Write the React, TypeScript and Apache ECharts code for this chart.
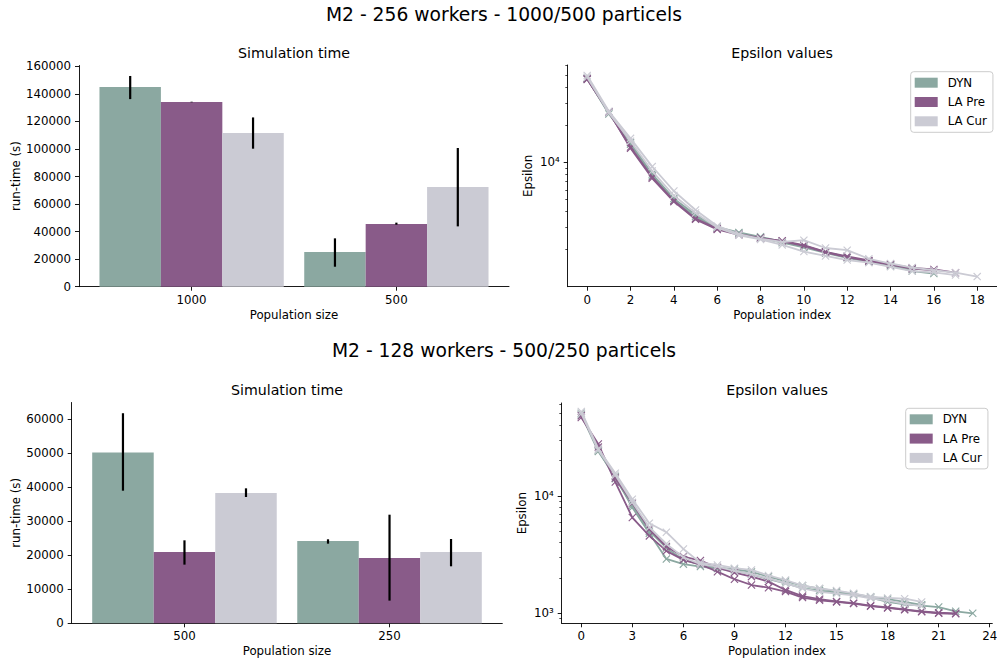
import React, { useEffect, useRef } from 'react';
import * as echarts from 'echarts';

// ---------- data ----------
const methods = ['DYN', 'LA Pre', 'LA Cur'];
const colors = ['#8ba8a1', '#895b89', '#cbcbd4'];

// Row 1: 256 workers – run time
const topPopSizes = ['1000', '500'];
const topTimeDYN = [145000, 25200];
const topLowDYN = [136200, 14500];
const topHighDYN = [153000, 35100];
const topTimePre = [134100, 45500];
const topLowPre = [133900, 45000];
const topHighPre = [134300, 46500];
const topTimeCur = [111600, 72400];
const topLowCur = [100200, 43800];
const topHighCur = [122900, 100700];
const topTimeTicks = [0, 20000, 40000, 60000, 80000, 100000, 120000, 140000, 160000];

// Row 2: 128 workers – run time
const botPopSizes = ['500', '250'];
const botTimeDYN = [50200, 24180];
const botLowDYN = [38950, 23390];
const botHighDYN = [61700, 24670];
const botTimePre = [20950, 19180];
const botLowPre = [17230, 6660];
const botHighPre = [24370, 31900];
const botTimeCur = [38270, 20950];
const botLowCur = [37100, 16740];
const botHighCur = [39640, 24760];
const botTimeTicks = [0, 10000, 20000, 30000, 40000, 50000, 60000];

// Row 1: epsilon per population index
const epsTopDYN_A = [47500, 24500, 14400, 8050, 5100, 3780, 3000, 2720, 2510, 2300, 2120, 1900, 1720, 1590, 1480, 1330, 1270];
const epsTopDYN_B = [46800, 25000, 14000, 7800, 4950, 3650, 2950, 2680, 2460, 2250, 2060, 1860, 1700, 1580, 1460, 1370];
const epsTopPre_A = [46500, 25600, 12970, 7430, 4820, 3470, 2880, 2600, 2440, 2330, 2150, 1900, 1750, 1620, 1510, 1410, 1370, 1290];
const epsTopPre_B = [47200, 25300, 13300, 7600, 4900, 3520, 2920, 2640, 2460, 2310, 2120, 1880, 1720, 1600, 1500, 1390, 1350];
const epsTopCur_A = [50000, 25800, 15600, 9230, 5870, 4130, 3070, 2640, 2420, 2280, 2360, 2040, 1960, 1670, 1530, 1420, 1350, 1290, 1200];
const epsTopCur_B = [48500, 25000, 14800, 8500, 5400, 3900, 2980, 2580, 2390, 2160, 1910, 1760, 1630, 1555, 1440, 1330, 1300, 1235];
const epsTopXTicks = [0, 2, 4, 6, 8, 10, 12, 14, 16, 18];
const epsTopMajor = [10000];
const epsTopMinor = [2000, 3000, 4000, 5000, 6000, 7000, 8000, 9000, 20000, 30000, 40000, 50000, 60000];

// Row 2: epsilon per population index
const epsBotDYN_A = [49000, 23900, 14600, 7950, 4810, 2900, 2620, 2500, 2400, 2300, 2150, 1950, 1800, 1640, 1560, 1500, 1440, 1360, 1250, 1190, 1160, 1130, 1040, 1000];
const epsBotDYN_B = [50500, 24500, 14000, 8300, 5000, 3600, 2850, 2600, 2450, 2380, 2250, 2050, 1880, 1720, 1620, 1540, 1460, 1380, 1320, 1250, 1180];
const epsBotPre_A = [46500, 27600, 13100, 6530, 4560, 3400, 2850, 2600, 2260, 1950, 1740, 1650, 1530, 1360, 1290, 1250, 1210, 1150, 1110, 1070, 1030, 1000, 990];
const epsBotPre_B = [48000, 26000, 14200, 8670, 5200, 3700, 3040, 2810, 2450, 2220, 2050, 1860, 1580, 1400, 1320, 1260, 1220, 1160, 1120, 1080, 1040, 1010, 1000];
const epsBotCur_A = [52300, 25200, 15600, 9370, 5850, 4900, 3530, 2700, 2580, 2420, 2340, 2100, 1920, 1720, 1630, 1560, 1480, 1380, 1350, 1330, 1250];
const epsBotCur_B = [50000, 24500, 15000, 8800, 5400, 3900, 3000, 2620, 2500, 2300, 2150, 1980, 1800, 1630, 1520, 1470, 1420, 1340, 1280, 1200, 1150];
const epsBotXTicks = [0, 3, 6, 9, 12, 15, 18, 21, 24];
const epsBotMajor = [1000, 10000];
const epsBotMinor = [900, 2000, 3000, 4000, 5000, 6000, 7000, 8000, 9000, 20000, 30000, 40000, 50000, 60000];

// ---------- styling helpers ----------
const FONT = 'DejaVu Sans';
const AX_COLOR = '#000';
const X_PATH = 'path://M0,1L1,0L5,4L9,0L10,1L6,5L10,9L9,10L5,6L1,10L0,9L4,5Z';

const axisBase = (extra: any) => ({
  axisLine: { show: true, onZero: false, lineStyle: { color: AX_COLOR, width: 0.9 } },
  splitLine: { show: false },
  nameTextStyle: { color: '#000', fontSize: 11.8, fontFamily: FONT },
  nameLocation: 'middle',
  ...extra,
});
const tick = (values: number[], len = 4, width = 0.9) => ({
  show: true, length: len, customValues: values, lineStyle: { color: AX_COLOR, width },
});
const label = (values: number[], formatter: any, margin = 7) => ({
  show: true, customValues: values, formatter, color: '#000', fontSize: 11.8, fontFamily: FONT, margin,
});

const supFmt = (v: number) => (Math.abs(v - 10000) < 1 ? '10⁴' : Math.abs(v - 1000) < 1 ? '10³' : '');

const barSeries = (
  name: string, idx: number, means: number[], lows: number[], highs: number[], grid: number,
) => {
  const offset = (idx - 1) * 0.3;
  const half = 0.15;
  return {
    type: 'custom',
    name: name + ' run-time',
    xAxisIndex: grid === 0 ? 0 : 2,
    yAxisIndex: grid === 0 ? 0 : 3,
    data: means.map((m, i) => [i, m, lows[i], highs[i]]),
    encode: { x: 0, y: 1 },
    renderItem: (_p: any, api: any) => {
      const x = api.value(0) + offset;
      const y = api.value(1);
      const tl = api.coord([x - half, y]);
      const br = api.coord([x + half, 0]);
      const pLo = api.coord([x, api.value(2)]);
      const pHi = api.coord([x, api.value(3)]);
      return {
        type: 'group',
        children: [
          { type: 'rect', shape: { x: tl[0], y: tl[1], width: br[0] - tl[0], height: br[1] - tl[1] }, style: { fill: colors[idx] } },
          { type: 'line', z2: 10, shape: { x1: pLo[0], y1: pLo[1], x2: pHi[0], y2: pHi[1] }, style: { stroke: '#000', lineWidth: 2.2 } },
        ],
      };
    },
  };
};

const lineSeries = (name: string, idx: number, values: number[], xi: number, yi: number) => ({
  type: 'line',
  name,
  xAxisIndex: xi,
  yAxisIndex: yi,
  data: values.map((v, i) => [i, v]),
  symbol: X_PATH,
  symbolSize: 8,
  showSymbol: true,
  lineStyle: { color: colors[idx], width: 1.8 },
  itemStyle: { color: colors[idx] },
  z: 2 + idx,
});

const legendCfg = (left: number, top: number) => ({
  orient: 'vertical',
  left,
  top,
  data: methods,
  icon: 'rect',
  itemWidth: 23,
  itemHeight: 10,
  itemGap: 7.3,
  padding: [5, 6, 5, 4],
  backgroundColor: 'rgba(255,255,255,0.8)',
  borderColor: '#cccccc',
  borderWidth: 1,
  borderRadius: 3,
  selectedMode: false,
  itemStyle: { borderWidth: 0 },
  textStyle: { color: '#000', fontSize: 11.8, fontFamily: FONT, padding: [0, 0, 0, 5] },
});

const titleText = (text: string, x: number, y: number, size: number) => ({
  type: 'text',
  x,
  y,
  style: { text, fill: '#000', font: `${size}px "${FONT}"`, textAlign: 'center', textVerticalAlign: 'middle' },
});

export default function App() {
  const ref = useRef<HTMLDivElement>(null);
  useEffect(() => {
    if (!ref.current) return;
    const chart = echarts.init(ref.current, null, { renderer: 'svg' });
    const option: any = {
      animation: false,
      backgroundColor: '#fff',
      textStyle: { fontFamily: FONT },
      graphic: [
        titleText('M2 - 256 workers - 1000/500 particels', 504, 14, 18.7),
        titleText('M2 - 128 workers - 500/250 particels', 504, 350, 18.7),
        titleText('Simulation time', 294, 53, 14.2),
        titleText('Epsilon values', 782, 53, 14.2),
        titleText('Simulation time', 287, 390, 14.2),
        titleText('Epsilon values', 777, 390, 14.2),
      ],
      grid: [
        { left: 79, top: 65.5, width: 430, height: 221.2, containLabel: false, outerBoundsMode: 'none' },
        { left: 567.7, top: 65, width: 429, height: 221.7, containLabel: false, outerBoundsMode: 'none' },
        { left: 71.7, top: 402.5, width: 430.6, height: 220.8, containLabel: false, outerBoundsMode: 'none' },
        { left: 561.7, top: 403, width: 430.6, height: 220.3, containLabel: false, outerBoundsMode: 'none' },
      ],
      legend: [legendCfg(910.7, 71.7), legendCfg(905.7, 408.3)],
      xAxis: [
        axisBase({ type: 'value', gridIndex: 0, min: -0.55, max: 1.55, name: 'Population size', nameGap: 22,
          axisTick: tick([0, 1]), axisLabel: label([0, 1], (v: number) => topPopSizes[Math.round(v)]) }),
        axisBase({ type: 'value', gridIndex: 1, min: -0.9, max: 18.9, name: 'Population index', nameGap: 22,
          axisTick: tick(epsTopXTicks), axisLabel: label(epsTopXTicks, (v: number) => String(v)) }),
        axisBase({ type: 'value', gridIndex: 2, min: -0.55, max: 1.55, name: 'Population size', nameGap: 22,
          axisTick: tick([0, 1]), axisLabel: label([0, 1], (v: number) => botPopSizes[Math.round(v)]) }),
        axisBase({ type: 'value', gridIndex: 3, min: -1.15, max: 24.15, name: 'Population index', nameGap: 22,
          axisTick: tick(epsBotXTicks), axisLabel: label(epsBotXTicks, (v: number) => String(v)) }),
      ],
      yAxis: [
        axisBase({ type: 'value', gridIndex: 0, min: 0, max: 160600, name: 'run-time (s)', nameGap: 56,
          axisTick: tick(topTimeTicks), axisLabel: label(topTimeTicks, (v: number) => String(v), 8) }),
        axisBase({ type: 'log', logBase: 10, gridIndex: 1, min: 995, max: 60800, name: 'Epsilon', nameGap: 34,
          axisTick: tick(epsTopMajor), axisLabel: label(epsTopMajor, supFmt, 8) }),
        { type: 'log', logBase: 10, gridIndex: 1, min: 995, max: 60800, position: 'left',
          axisLine: { show: false, onZero: false }, splitLine: { show: false }, axisLabel: { show: false },
          axisTick: tick(epsTopMinor, 2.4, 0.7) },
        axisBase({ type: 'value', gridIndex: 2, min: 0, max: 64850, name: 'run-time (s)', nameGap: 49,
          axisTick: tick(botTimeTicks), axisLabel: label(botTimeTicks, (v: number) => String(v), 8) }),
        axisBase({ type: 'log', logBase: 10, gridIndex: 3, min: 821.6, max: 61700, name: 'Epsilon', nameGap: 34,
          axisTick: tick(epsBotMajor), axisLabel: label(epsBotMajor, supFmt, 8) }),
        { type: 'log', logBase: 10, gridIndex: 3, min: 821.6, max: 61700, position: 'left',
          axisLine: { show: false, onZero: false }, splitLine: { show: false }, axisLabel: { show: false },
          axisTick: tick(epsBotMinor, 2.4, 0.7) },
      ],
      series: [
        barSeries('DYN', 0, topTimeDYN, topLowDYN, topHighDYN, 0),
        barSeries('LA Pre', 1, topTimePre, topLowPre, topHighPre, 0),
        barSeries('LA Cur', 2, topTimeCur, topLowCur, topHighCur, 0),
        barSeries('DYN', 0, botTimeDYN, botLowDYN, botHighDYN, 2),
        barSeries('LA Pre', 1, botTimePre, botLowPre, botHighPre, 2),
        barSeries('LA Cur', 2, botTimeCur, botLowCur, botHighCur, 2),
        lineSeries('DYN', 0, epsTopDYN_A, 1, 1),
        lineSeries('DYN', 0, epsTopDYN_B, 1, 1),
        lineSeries('LA Pre', 1, epsTopPre_A, 1, 1),
        lineSeries('LA Pre', 1, epsTopPre_B, 1, 1),
        lineSeries('LA Cur', 2, epsTopCur_A, 1, 1),
        lineSeries('LA Cur', 2, epsTopCur_B, 1, 1),
        lineSeries('DYN', 0, epsBotDYN_A, 3, 4),
        lineSeries('DYN', 0, epsBotDYN_B, 3, 4),
        lineSeries('LA Pre', 1, epsBotPre_A, 3, 4),
        lineSeries('LA Pre', 1, epsBotPre_B, 3, 4),
        lineSeries('LA Cur', 2, epsBotCur_A, 3, 4),
        lineSeries('LA Cur', 2, epsBotCur_B, 3, 4),
      ],
    };
    chart.setOption(option);
    return () => chart.dispose();
  }, []);
  return <div ref={ref} style={{ position: 'fixed', left: 0, top: 0, width: 997, height: 662 }} />;
}
